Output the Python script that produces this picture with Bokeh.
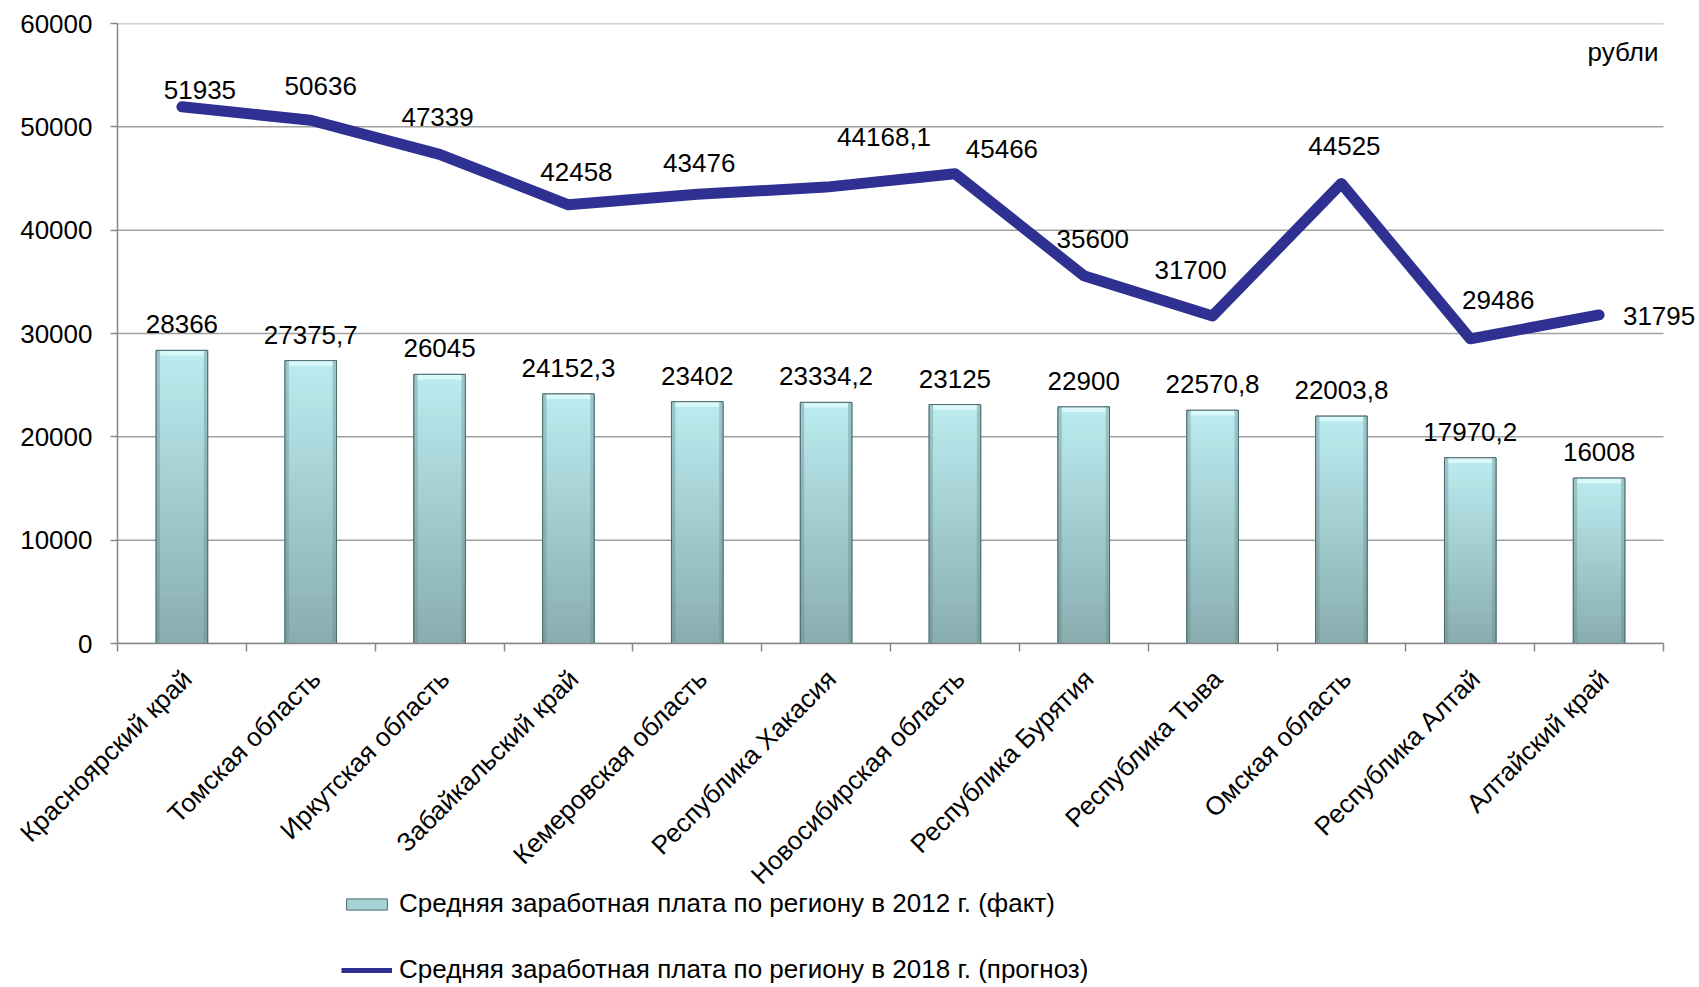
import math
from bokeh.plotting import figure
from bokeh.layouts import column
from bokeh.models import (Range1d, FixedTicker, ColumnDataSource, LabelSet, Label,
                          Legend, LegendItem, BasicTickFormatter)
from bokeh.core.properties import value
from bokeh.embed import file_html
from bokeh.resources import INLINE

# ---------------- data ----------------
regions = ["Красноярский край", "Томская область", "Иркутская область",
           "Забайкальский край", "Кемеровская область", "Республика Хакасия",
           "Новосибирская область", "Республика Бурятия", "Республика Тыва",
           "Омская область", "Республика Алтай", "Алтайский край"]
wages_2012 = [28366, 27375.7, 26045, 24152.3, 23402, 23334.2, 23125, 22900,
              22570.8, 22003.8, 17970.2, 16008]
wages_2018 = [51935, 50636, 47339, 42458, 43476, 44168.1, 45466, 35600,
              31700, 44525, 29486, 31795]
y_ticks = [0, 10000, 20000, 30000, 40000, 50000, 60000]
series_names = ["Средняя заработная плата по региону в 2012 г. (факт)",
                "Средняя заработная плата по региону в 2018 г. (прогноз)"]
unit_text = "рубли"

# label placement offsets (screen px) for the 2018 line labels
line_label_dx = [18, 10, -2, 8, 2, 58, 47, 9, -22, 3, 28, 60]
line_label_dy = [17, 34, 37, 33, 31, 50, 25, 37, 46, 37, 39, -1]

FONT = "Liberation Sans"
FS = "26px"
FS_CAT = "26px"

BAR_FILL = "#a8d3d6"
BAR_LINE = "#4d6a6b"
LINE_COLOR = "#2e3192"


def fmt(v):
    return f"{v:g}".replace(".", ",")


n = len(regions)
centers = [i + 0.5 for i in range(n)]
bounds = [i for i in range(n + 1)]

# layout (pixels)
W = 1695
PLOT_L, PLOT_R, PLOT_T, PLOT_B = 117, 1663, 23, 643
BOTTOM_BORDER = 265
H1 = PLOT_B + BOTTOM_BORDER
LEG_TOP, H2 = 888, 97
LEG_X = 341
x_end = n * (W - PLOT_L) / (PLOT_R - PLOT_L)
cat_shift = 0.04  # shift of rotated category labels (in category units)

p = figure(width=W, height=H1, x_range=Range1d(0, x_end), y_range=Range1d(y_ticks[0], y_ticks[-1]),
           output_backend="svg", toolbar_location=None,
           min_border_left=PLOT_L, min_border_right=0, min_border_top=PLOT_T,
           min_border_bottom=BOTTOM_BORDER)
p.outline_line_color = None
p.background_fill_color = "white"
p.border_fill_color = "white"
p.xgrid.visible = False
p.ygrid.visible = False

# gridlines limited to the category span
p.segment(x0=[0] * len(y_ticks), x1=[n] * len(y_ticks), y0=y_ticks, y1=y_ticks,
          line_color="#a0a0a0", line_width=1.5)

# ---------------- axes ----------------
xa = p.xaxis[0]
label_pos = [c + cat_shift for c in centers]
xa.ticker = FixedTicker(ticks=label_pos, minor_ticks=bounds)
xa.major_label_overrides = {c: r for c, r in zip(label_pos, regions)}
xa.bounds = (0, n)
xa.major_tick_line_color = None
xa.major_tick_out = 0
xa.major_tick_in = 0
xa.minor_tick_line_color = "#868686"
xa.minor_tick_line_width = 1.5
xa.minor_tick_out = 8
xa.minor_tick_in = 0
xa.axis_line_color = "#868686"
xa.axis_line_width = 1.5
xa.major_label_orientation = math.pi / 4
xa.major_label_standoff = 23
xa.major_label_text_font = FONT
xa.major_label_text_font_size = FS_CAT
xa.major_label_text_color = "black"

ya = p.yaxis[0]
ya.ticker = FixedTicker(ticks=y_ticks)
ya.formatter = BasicTickFormatter(use_scientific=False)
ya.minor_tick_line_color = None
ya.major_tick_line_color = "#868686"
ya.major_tick_line_width = 1.5
ya.major_tick_out = 7
ya.major_tick_in = 0
ya.axis_line_color = "#868686"
ya.axis_line_width = 1.5
ya.major_label_standoff = 18
ya.major_label_text_font = FONT
ya.major_label_text_font_size = FS
ya.major_label_text_color = "black"

# ---------------- bars (gradient) ----------------
BW = 0.4
p.vbar(x=centers, top=wages_2012, bottom=0, width=BW,
       fill_color=BAR_FILL, line_color=BAR_LINE, line_width=1)

top_rgb = (0xBC, 0xEC, 0xF0)
bot_rgb = (0x88, 0xAD, 0xAF)
NB = 30
for k in range(NB):
    f0, f1 = k / NB, (k + 1) / NB
    t = (f0 + f1) / 2
    c = tuple(int(round(b + (a - b) * t)) for a, b in zip(top_rgb, bot_rgb))
    col = "#%02x%02x%02x" % c
    p.vbar(x=centers, bottom=[v * f0 for v in wages_2012],
           top=[v * min(1.0, f1 + 0.004) for v in wages_2012],
           width=BW, fill_color=col, line_color=None)

# bevel: darker sides, lighter top
SW = 0.03
p.vbar(x=[c - BW / 2 + SW / 2 for c in centers], top=wages_2012, bottom=0, width=SW,
       fill_color="#5e8486", fill_alpha=0.35, line_color=None)
p.vbar(x=[c + BW / 2 - SW / 2 for c in centers], top=wages_2012, bottom=0, width=SW,
       fill_color="#5e8486", fill_alpha=0.35, line_color=None)
p.vbar(x=centers, top=wages_2012, bottom=[v - 500 for v in wages_2012], width=BW - 2 * SW,
       fill_color="#e4fbfc", fill_alpha=0.75, line_color=None)
p.vbar(x=centers, top=wages_2012, bottom=0, width=BW,
       fill_color=None, line_color=BAR_LINE, line_width=1)

# ---------------- line ----------------
p.line(x=centers, y=wages_2018, line_width=11, line_color=LINE_COLOR,
       line_join="round", line_cap="round")

# ---------------- labels ----------------
bar_src = ColumnDataSource(dict(x=centers, y=wages_2012, t=[fmt(v) for v in wages_2012]))
p.add_layout(LabelSet(x="x", y="y", text="t", source=bar_src, text_align="center",
                      text_baseline="alphabetic", y_offset=17, text_font=value(FONT),
                      text_font_size=value(FS), text_color="black"))

line_src = ColumnDataSource(dict(x=centers, y=wages_2018, t=[fmt(v) for v in wages_2018],
                                 dx=line_label_dx, dy=line_label_dy))
p.add_layout(LabelSet(x="x", y="y", text="t", source=line_src, text_align="center",
                      text_baseline="middle", x_offset="dx", y_offset="dy",
                      text_font=value(FONT), text_font_size=value(FS), text_color="black"))

p.add_layout(Label(x=n, y=y_ticks[-1], text=unit_text, x_offset=-5, y_offset=-28,
                   text_align="right", text_baseline="alphabetic", text_font=FONT,
                   text_font_size="26px", text_color="black"))

# ---------------- legend (separate strip, slightly overlapping the blank bottom) ----------------
pl = figure(width=W, height=H2, x_range=Range1d(0, 1), y_range=Range1d(0, 1),
            x_axis_type=None, y_axis_type=None, output_backend="svg", toolbar_location=None,
            min_border_left=0, min_border_right=0, min_border_top=0, min_border_bottom=0)
pl.outline_line_color = None
pl.background_fill_alpha = 0
pl.border_fill_alpha = 0
pl.margin = (LEG_TOP - H1, 0, 0, 0)
nan = float("nan")
leg_bar = pl.vbar(x=[nan], top=[nan], width=BW, fill_color=BAR_FILL, line_color=BAR_LINE, line_width=1)
leg_line = pl.line(x=[nan], y=[nan], line_width=5, line_color=LINE_COLOR)
legend = Legend(items=[LegendItem(label=series_names[0], renderers=[leg_bar]),
                       LegendItem(label=series_names[1], renderers=[leg_line])],
                location=(LEG_X - PLOT_L, 0), orientation="vertical", padding=0, margin=0,
                spacing=35, glyph_width=51, glyph_height=14, label_standoff=7,
                label_text_font=FONT, label_text_font_size=FS, label_text_color="black",
                border_line_color=None, background_fill_alpha=0)
pl.add_layout(legend, "center")

open("out.html", "w").write(file_html(column(p, pl, spacing=0), INLINE))
